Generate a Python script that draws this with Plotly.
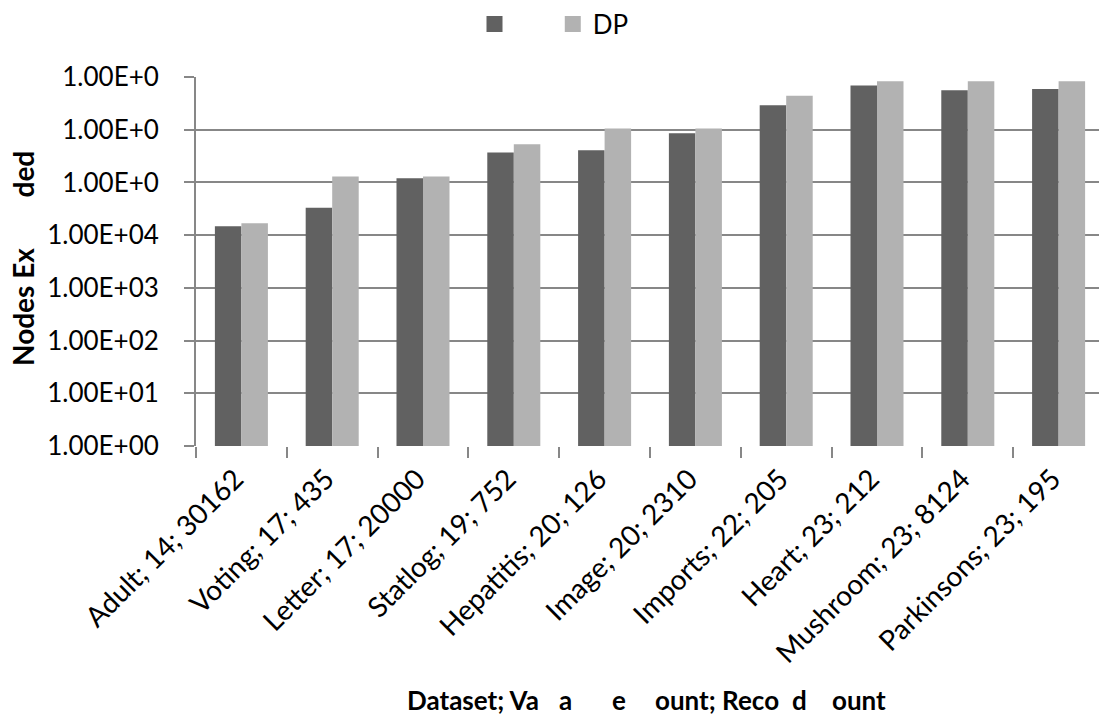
import plotly.graph_objects as go

categories = ["Adult; 14; 30162", "Voting; 17; 435", "Letter; 17; 20000", "Statlog; 19; 752",
              "Hepatitis; 20; 126", "Image; 20; 2310", "Imports; 22; 205", "Heart; 23; 212",
              "Mushroom; 23; 8124", "Parkinsons; 23; 195"]
series1_name = ""
series1 = [1.47e4, 3.3e4, 1.2e5, 3.7e5, 4.1e5, 8.6e5, 2.9e6, 6.9e6, 5.6e6, 5.9e6]
series2_name = "DP"
series2 = [1.69e4, 1.3e5, 1.3e5, 5.3e5, 1.05e6, 1.05e6, 4.4e6, 8.3e6, 8.3e6, 8.3e6]
y_tickvals = [1, 10, 100, 1e3, 1e4, 1e5, 1e6, 1e7]
y_ticktext = ["1.00E+00", "1.00E+01", "1.00E+02", "1.00E+03", "1.00E+04",
              "1.00E+0", "1.00E+0", "1.00E+0"]
y_title_parts = ["Nodes Ex", "ded"]
x_title_parts = ["Dataset; Va", "a", "e", "ount; Reco", "d", "ount"]

DARK = "#616161"
LIGHT = "#B2B2B2"
GRID = "#878787"
FONT = "Lato"
FS = 28
YFS = 26
TFS = 26
LFS = 26

W, H = 1099, 727
L, T, B = 196, 77, 281
PW = W - L

fig = go.Figure()
fig.add_trace(go.Bar(x=categories, y=series1, name=series1_name, marker_color=DARK,
                     marker_line_width=0, showlegend=False))
fig.add_trace(go.Bar(x=categories, y=series2, name=series2_name, marker_color=LIGHT,
                     marker_line_width=0, showlegend=False))
# legend proxies
fig.add_trace(go.Scatter(x=[None], y=[None], mode="markers", name="\u00a0" * 5,
                         marker=dict(symbol="square", size=18, color=DARK)))
fig.add_trace(go.Scatter(x=[None], y=[None], mode="markers", name=series2_name,
                         marker=dict(symbol="square", size=18, color=LIGHT)))

fig.update_layout(
    width=W, height=H, autosize=False,
    margin=dict(l=L, r=0, t=T, b=B, pad=0),
    paper_bgcolor="white", plot_bgcolor="white",
    font=dict(family=FONT, size=FS, color="black"),
    barmode="group", bargap=0.416, bargroupgap=0,
    showlegend=True,
    legend=dict(orientation="h", xref="container", yref="container",
                x=554 / W, xanchor="center", y=1 - 24 / H, yanchor="middle",
                font=dict(family=FONT, size=LFS), itemsizing="trace",
                bgcolor="rgba(0,0,0,0)"),
    xaxis=dict(type="category", range=[-0.5, 9.5 - 5 / 90.8],
               showgrid=False, showline=False, zeroline=False,
               ticks="outside", tickson="boundaries", ticklen=11, tickwidth=2, tickcolor=GRID,
               tickangle=-45, ticklabelstandoff=10, ticklabelshift=-6,
               tickfont=dict(family=FONT, size=FS, color="black")),
    yaxis=dict(type="log", range=[0, 7], tickvals=y_tickvals,
               ticktext=[t + "\u00a0\u00a0\u00a0" for t in y_ticktext],
               showgrid=True, gridcolor=GRID, gridwidth=2,
               showline=True, linecolor=GRID, linewidth=2,
               ticks="outside", ticklen=10, tickwidth=2, tickcolor=GRID,
               zeroline=False, tickfont=dict(family=FONT, size=YFS, color="black")),
)

def px_x(p):
    return (p - L) / PW

def px_y(p):
    return 1 - (p - T) / (H - T - B)

annots = []
annots.append(dict(text="<b>" + y_title_parts[0] + "</b>", x=px_x(23), y=px_y(368),
                   xref="paper", yref="paper", textangle=-90, xanchor="center", yanchor="bottom",
                   showarrow=False, font=dict(family=FONT, size=TFS + 2)))
annots.append(dict(text="<b>" + y_title_parts[1] + "</b>", x=px_x(23), y=px_y(200),
                   xref="paper", yref="paper", textangle=-90, xanchor="center", yanchor="bottom",
                   showarrow=False, font=dict(family=FONT, size=TFS + 2)))
x_starts = [405, 557, 610, 653, 790, 830]
for txt, xs in zip(x_title_parts, x_starts):
    annots.append(dict(text="<b>" + txt + "</b>", x=px_x(xs), y=px_y(700),
                       xref="paper", yref="paper", xanchor="left", yanchor="middle",
                       showarrow=False, font=dict(family=FONT, size=TFS)))
fig.update_layout(annotations=annots)

fig.write_html("out.html", config={"displayModeBar": False},
               post_script="document.body.style.margin='0';")
